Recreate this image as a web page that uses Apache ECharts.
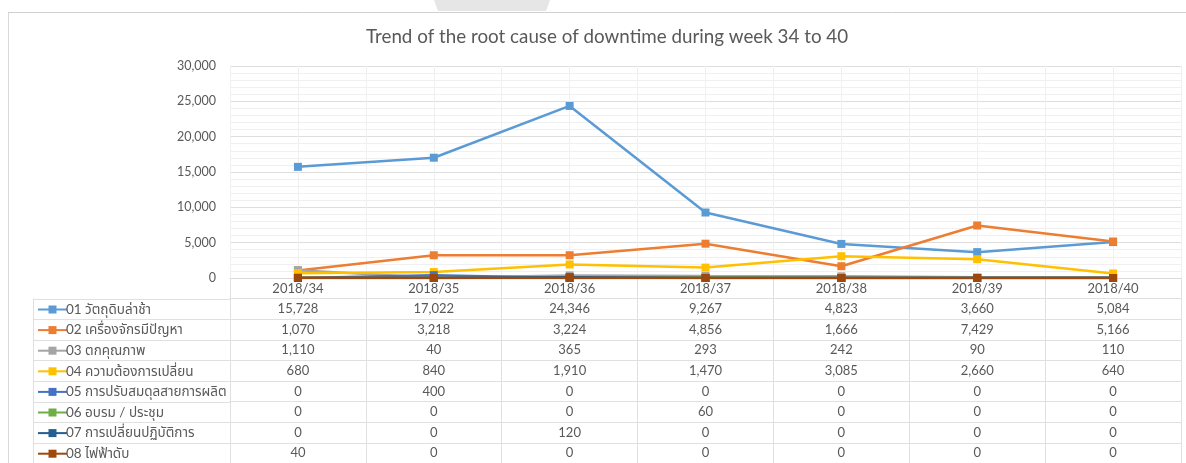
<!DOCTYPE html>
<html>
<head>
<meta charset="utf-8">
<script src="https://cdn.jsdelivr.net/npm/echarts@6/dist/echarts.min.js"></script>
<style>
html,body{margin:0;padding:0;background:#fff;}
#c{width:1186px;height:463px;}
</style>
</head>
<body>
<div id="c"></div>
<script>
const categories = ['2018/34','2018/35','2018/36','2018/37','2018/38','2018/39','2018/40'];
const s01 = [15728, 17022, 24346, 9267, 4823, 3660, 5084];
const s02 = [1070, 3218, 3224, 4856, 1666, 7429, 5166];
const s03 = [1110, 40, 365, 293, 242, 90, 110];
const s04 = [680, 840, 1910, 1470, 3085, 2660, 640];
const s05 = [0, 400, 0, 0, 0, 0, 0];
const s06 = [0, 0, 0, 60, 0, 0, 0];
const s07 = [0, 0, 120, 0, 0, 0, 0];
const s08 = [40, 0, 0, 0, 0, 0, 0];
const seriesNames = [
  '01 วัตถุดิบล่าช้า',
  '02 เครื่องจักรมีปัญหา',
  '03 ตกคุณภาพ',
  '04 ความต้องการเปลี่ยน',
  '05 การปรับสมดุลสายการผลิต',
  '06 อบรม / ประชุม',
  '07 การเปลี่ยนปฏิบัติการ',
  '08 ไฟฟ้าดับ'
];
const titleText = 'Trend of the root cause of downtime during week 34 to 40';

const allSeries = [s01, s02, s03, s04, s05, s06, s07, s08];
const colors = ['#5B9BD5', '#ED7D31', '#A5A5A5', '#FFC000', '#4472C4', '#70AD47', '#255E91', '#9E480E'];
const FONT = "Lato, 'Noto Sans Thai', 'Noto Sans', 'DejaVu Sans', sans-serif";
const TXT = '#595959';
const fmt = v => Number(v).toLocaleString('en-US');

const ROW_H = 20.6;
const GRID_BOTTOM_Y = 278;

const rowAxes = allSeries.map((arr, k) => ({
  type: 'category',
  gridIndex: 0,
  data: categories,
  position: 'bottom',
  offset: ROW_H * (k + 1),
  axisLine: { show: true, lineStyle: { color: '#e0e0e0', width: 1 } },
  axisTick: { show: false },
  splitLine: { show: false },
  axisLabel: {
    interval: 0, margin: 4, color: TXT, fontSize: 13, fontFamily: FONT,
    formatter: (val, idx) => fmt(arr[idx])
  }
}));

const chart = echarts.init(document.getElementById('c'), null, { renderer: 'canvas' });

const graphics = [
  { type: 'polygon', shape: { points: [[434, 0], [550, 0], [546, 11], [438, 11]] }, style: { fill: '#e6e6e6' }, silent: true },
  { type: 'line', shape: { x1: 8, y1: 12.5, x2: 1186, y2: 12.5 }, style: { stroke: '#d0d0d0', lineWidth: 1 }, silent: true },
  { type: 'line', shape: { x1: 8.5, y1: 13, x2: 8.5, y2: 463 }, style: { stroke: '#d9d9d9', lineWidth: 1 }, silent: true },
  { type: 'line', shape: { x1: 33.5, y1: GRID_BOTTOM_Y + ROW_H, x2: 33.5, y2: 463 }, style: { stroke: '#e0e0e0', lineWidth: 1 }, silent: true }
];
for (let k = 1; k <= 9; k++) {
  const y = Math.round(GRID_BOTTOM_Y + ROW_H * k) + 0.5;
  graphics.push({ type: 'line', shape: { x1: 33, y1: y, x2: 230, y2: y }, style: { stroke: '#e0e0e0', lineWidth: 1 }, silent: true });
}

const LEG_TEXT_H = 14;

chart.setOption({
  backgroundColor: '#fff',
  animation: false,
  title: {
    text: titleText,
    left: 361,
    top: 22,
    textStyle: { color: TXT, fontSize: 18.8, fontWeight: 'normal', fontFamily: FONT }
  },
  legend: {
    orient: 'vertical',
    left: 37,
    top: 309.5 - LEG_TEXT_H / 2,
    height: 250,
    padding: 0,
    itemWidth: 29,
    itemHeight: 10,
    itemGap: ROW_H - LEG_TEXT_H,
    selectedMode: false,
    data: seriesNames,
    textStyle: { color: TXT, fontSize: 13.5, lineHeight: LEG_TEXT_H, fontFamily: FONT, padding: [0, 0, 0, -6] }
  },
  grid: { left: 230, right: 5, top: 66, bottom: 463 - GRID_BOTTOM_Y, containLabel: false },
  xAxis: [
    {
      type: 'category',
      data: categories,
      gridIndex: 0,
      position: 'bottom',
      boundaryGap: true,
      axisLine: { show: true, lineStyle: { color: '#d9d9d9', width: 1 } },
      axisTick: { show: true, length: 185, lineStyle: { color: '#e0e0e0', width: 1 } },
      axisLabel: { interval: 0, margin: 4, color: TXT, fontSize: 13, fontFamily: FONT },
      splitLine: { show: true, lineStyle: { color: '#eeeeee', width: 1 } }
    },
    {
      type: 'value',
      gridIndex: 0,
      position: 'top',
      min: 0, max: 14, interval: 1,
      axisLine: { show: false }, axisTick: { show: false }, axisLabel: { show: false },
      splitLine: { show: true, lineStyle: { color: '#f0f0f0', width: 1 } }
    },
    ...rowAxes
  ],
  yAxis: {
    type: 'value',
    min: 0, max: 30000, interval: 5000,
    axisLine: { show: false },
    axisTick: { show: false },
    axisLabel: { color: TXT, fontSize: 12.5, fontFamily: FONT, margin: 14, formatter: v => fmt(v) },
    splitLine: { show: true, lineStyle: { color: '#dedede', width: 1 } },
    minorTick: { show: false, splitNumber: 5 },
    minorSplitLine: { show: true, lineStyle: { color: '#f0f0f0', width: 1 } }
  },
  graphic: graphics,
  series: allSeries.map((arr, i) => ({
    name: seriesNames[i],
    type: 'line',
    xAxisIndex: 0,
    data: arr,
    symbol: 'rect',
    symbolSize: 8,
    showAllSymbol: true,
    color: colors[i],
    lineStyle: { width: 2.5, color: colors[i] },
    itemStyle: { color: colors[i] },
    z: 3 + i
  }))
});
</script>
</body>
</html>
